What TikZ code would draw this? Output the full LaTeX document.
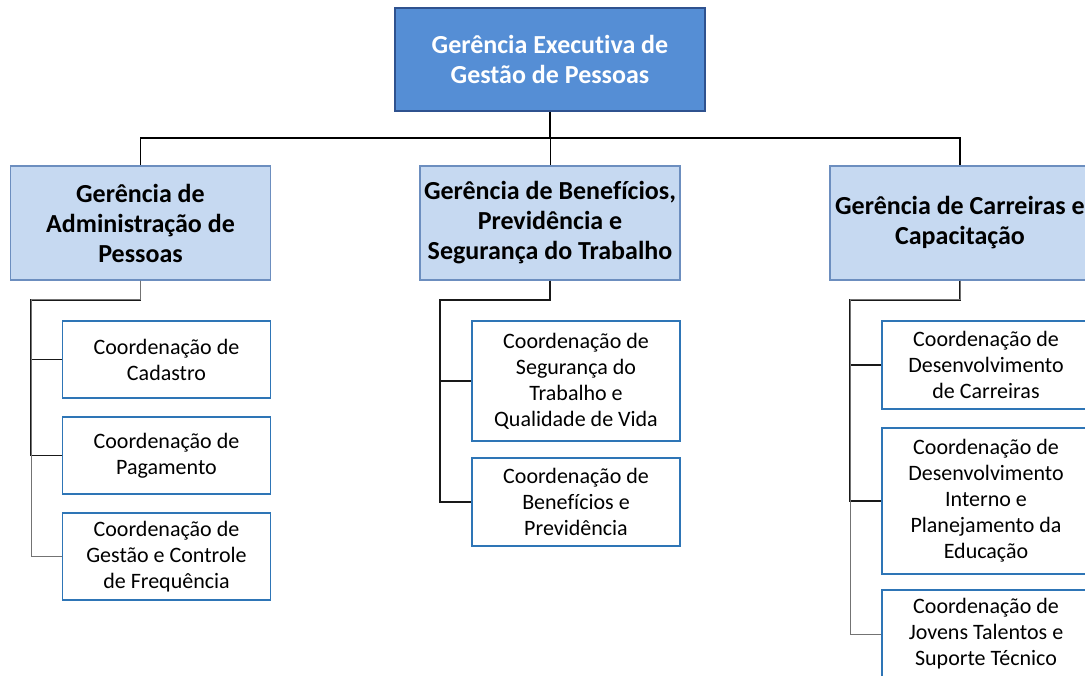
\documentclass[tikz,border=0pt]{standalone}
\usepackage{fontspec}
\setmainfont{Carlito}[Ligatures=NoCommon]
\definecolor{topfill}{RGB}{85,142,213}
\definecolor{topedge}{RGB}{47,82,143}
\definecolor{headfill}{RGB}{198,217,241}
\definecolor{headedge}{RGB}{108,142,191}
\definecolor{coordedge}{RGB}{46,117,182}
\tikzset{
  topbox/.style={draw=topedge, fill=topfill, line width=1.5pt, text=white, align=center,
    font=\fontsize{26}{30}\selectfont\bfseries, minimum width=310, minimum height=103},
  headbox/.style={draw=headedge, fill=headfill, line width=1.5pt, align=center,
    font=\fontsize{26}{30}\selectfont\bfseries, minimum width=260, minimum height=114},
  coordbox/.style={draw=coordedge, fill=white, line width=1.5pt, align=center,
    font=\fontsize{22}{26}\selectfont, minimum width=208},
  link/.style={line width=1.5pt, black!90},
  lastlink/.style={line width=1pt, black!55},
}
\begin{document}
\begin{tikzpicture}[x=1pt,y=-1pt]

   \path[use as bounding box, clip] (0,0) rectangle (1085,676);

   \node (ge) at (550,59.5) [topbox] {Gerência Executiva de\\Gestão de Pessoas};

   \node (admin) at (140.5,223) [headbox] {Gerência de\\Administração de\\Pessoas};
   \node (benef) at (550,223) [headbox] {Gerência de Benefícios,\\Previdência e\\Segurança do Trabalho};
   \node (carr) at (960,223) [headbox] {Gerência de Carreiras e\\Capacitação};

   \node (cad) at (166.5,359.5) [coordbox, minimum height=77] {Coordenação de\\Cadastro};
   \node (pag) at (166.5,455.5) [coordbox, minimum height=77] {Coordenação de\\Pagamento};
   \node (freq) at (166.5,556.5) [coordbox, minimum height=87] {Coordenação de\\Gestão e Controle\\de Frequência};

   \node (seg) at (576,381) [coordbox, minimum height=120] {Coordenação de\\Segurança do\\Trabalho e\\Qualidade de Vida};
   \node (ben) at (576,502) [coordbox, minimum height=88] {Coordenação de\\Benefícios e\\Previdência};

   \node (dcar) at (986,365) [coordbox, minimum height=88] {Coordenação de\\Desenvolvimento\\de Carreiras};
   \node (dint) at (986,501) [coordbox, minimum height=146] {Coordenação de\\Desenvolvimento\\Interno e\\Planejamento da\\Educação};
   \node (jov) at (986,634) [coordbox, minimum height=88] {Coordenação de\\Jovens Talentos e\\Suporte Técnico};

   \coordinate (bus) at (550,138);
   \coordinate (trunkA) at (31,300);
   \coordinate (trunkB) at (440,300);
   \coordinate (trunkC) at (850,300);

   \draw [line width=2pt] (ge.south) -- (bus);
   \draw [line width=1.6pt] (bus) -| (admin.north);
   \draw [line width=1.6pt] (bus) -| (carr.north);
   \draw [line width=0.8pt] (bus) -- (benef.north);

   \draw [link] (admin.south) |- (trunkA) |- (cad.west);
   \draw [link] (admin.south) |- (trunkA) |- (pag.west);
   \draw [lastlink] (admin.south) |- (trunkA) |- (freq.west);

   \draw [link] (benef.south) |- (trunkB) |- (seg.west);
   \draw [link] (benef.south) |- (trunkB) |- (ben.west);

   \draw [link] (carr.south) |- (trunkC) |- (dcar.west);
   \draw [link] (carr.south) |- (trunkC) |- (dint.west);
   \draw [lastlink] (carr.south) |- (trunkC) |- (jov.west);

\end{tikzpicture}
\end{document}
